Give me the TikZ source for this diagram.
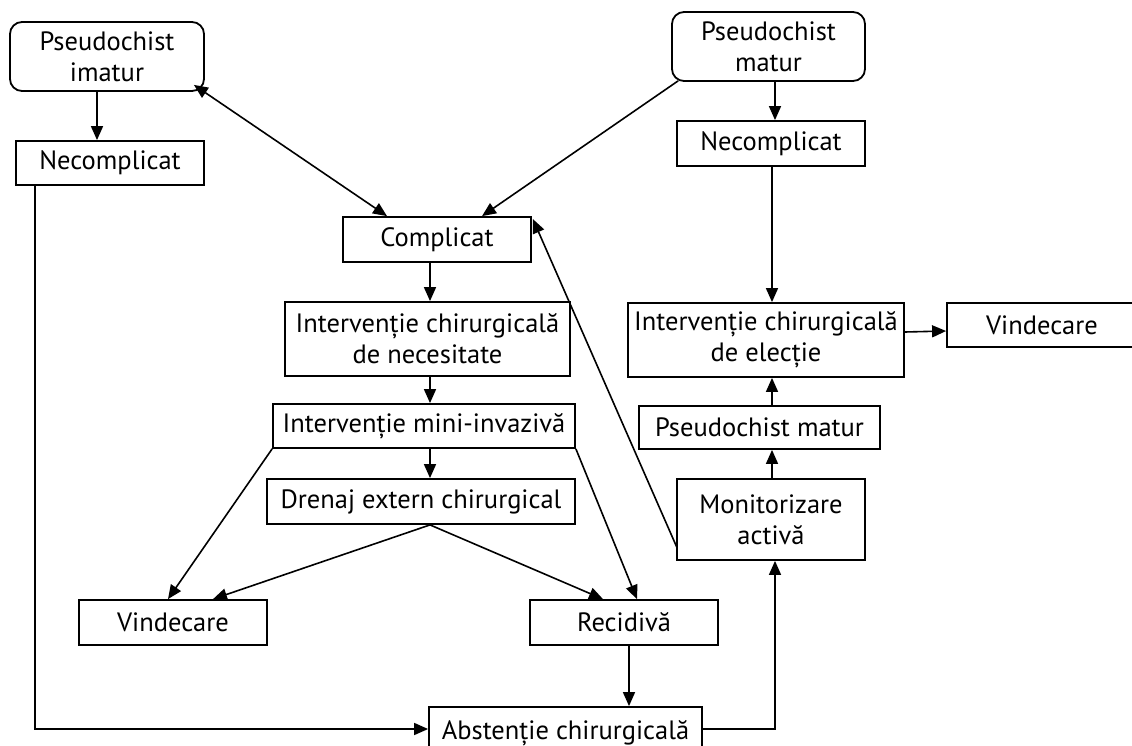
\documentclass[tikz,border=0pt]{standalone}
\usepackage{fontspec}
\setmainfont{PT Sans}
\usetikzlibrary{arrows.meta}
\begin{document}
\begin{tikzpicture}[x=1pt,y=-1pt,
  box/.style={draw, line width=1.8pt, inner sep=0pt, align=center, font=\fontsize{26.5}{31}\selectfont},
  rbox/.style={box, rounded corners=12pt},
  ln/.style={line width=1.6pt},
  arr/.style={ln, -{Triangle[length=14pt,width=12pt]}},
  darr/.style={ln, {Triangle[length=14pt,width=12pt]}-{Triangle[length=14pt,width=12pt]}}]
\useasboundingbox (0,0) rectangle (1132,746);
\clip (0,0) rectangle (1132,746);
% nodes
\node[rbox, minimum width=194pt, minimum height=69pt] (imatur) at (107,56.5) {Pseudochist\\imatur};
\node[box, minimum width=188pt, minimum height=44pt] (necL) at (110,163) {Necomplicat};
\node[rbox, minimum width=193pt, minimum height=69pt] (matur) at (768.5,46.5) {Pseudochist\\matur};
\node[box, minimum width=188pt, minimum height=45pt] (necR) at (771,143.5) {Necomplicat};
\node[box, minimum width=188pt, minimum height=45pt] (compl) at (437,239.5) {Complicat};
\node[box, minimum width=285pt, minimum height=74pt] (necesit) at (427.5,339) {Intervenție chirurgicală\\de necesitate};
\node[box, minimum width=302pt, minimum height=44pt] (mini) at (424,426) {Intervenție mini-invazivă};
\node[box, minimum width=308pt, minimum height=45pt] (drenaj) at (421,501.5) {Drenaj extern chirurgical};
\node[box, minimum width=188pt, minimum height=45pt] (vindL) at (173,622.5) {Vindecare};
\node[box, minimum width=188pt, minimum height=45pt] (recid) at (624,622.5) {Recidivă};
\node[box, minimum width=273pt, minimum height=52pt] (abst) at (565.5,733) {Abstenție chirurgicală};
\node[box, minimum width=188pt, minimum height=81pt] (monit) at (771,519.5) {Monitorizare\\activă};
\node[box, minimum width=241pt, minimum height=43pt] (pmatur) at (759.5,427.5) {Pseudochist matur};
\node[box, minimum width=276pt, minimum height=74pt] (electie) at (766,340) {Intervenție chirurgicală\\de elecție};
\node[box, minimum width=190pt, minimum height=44pt] (vindR) at (1042,325) {Vindecare};
% connectors
\draw[arr] ([shift={(-10,0)}]imatur.south) -- ([shift={(-13,0)}]necL.north);
\draw[darr] ([shift={(-11,-7)}]imatur.south east) -- ([shift={(-50,0)}]compl.north);
\draw[arr] ([shift={(7,-1)}]matur.south west) -- ([shift={(45,0)}]compl.north);
\draw[arr] ([shift={(6.5,0)}]matur.south) -- ([shift={(4,0)}]necR.north);
\draw[arr] ([shift={(1,0)}]necR.south) -- ([shift={(6,0)}]electie.north);
\draw[arr] ([shift={(-7,0)}]compl.south) -- ([shift={(2.5,0)}]necesit.north);
\draw[arr] ([shift={(2.5,0)}]necesit.south) -- ([shift={(6,0)}]mini.north);
\draw[arr] ([shift={(6,0)}]mini.south) -- ([shift={(9,0)}]drenaj.north);
\draw[arr] (mini.south west) -- ([shift={(-5,0)}]vindL.north);
\draw[arr] ([shift={(9,0)}]drenaj.south) -- ([shift={(40,0)}]vindL.north);
\draw[arr] ([shift={(9,0)}]drenaj.south) -- ([shift={(-21,0)}]recid.north);
\draw[arr] (mini.south east) -- ([shift={(13,0)}]recid.north);
\draw[arr] ([shift={(5,0)}]recid.south) -- ([shift={(63.5,0)}]abst.north);
\draw[arr] ([shift={(20,0)}]necL.south west) |- ([shift={(0,-4)}]abst.west);
\draw[arr] ([shift={(0,-4)}]abst.east) -| ([shift={(4,0)}]monit.south);
\draw[arr] ([shift={(1,-13)}]monit.south west) -- ([shift={(1,3)}]compl.north east);
\draw[arr] ([shift={(1,0)}]monit.north) -- ([shift={(12.5,0)}]pmatur.south);
\draw[arr] ([shift={(12.5,0)}]pmatur.north) -- ([shift={(6,0)}]electie.south);
\draw[arr] ([shift={(0,-8)}]electie.east) -- ([shift={(0,6)}]vindR.west);
\end{tikzpicture}
\end{document}
